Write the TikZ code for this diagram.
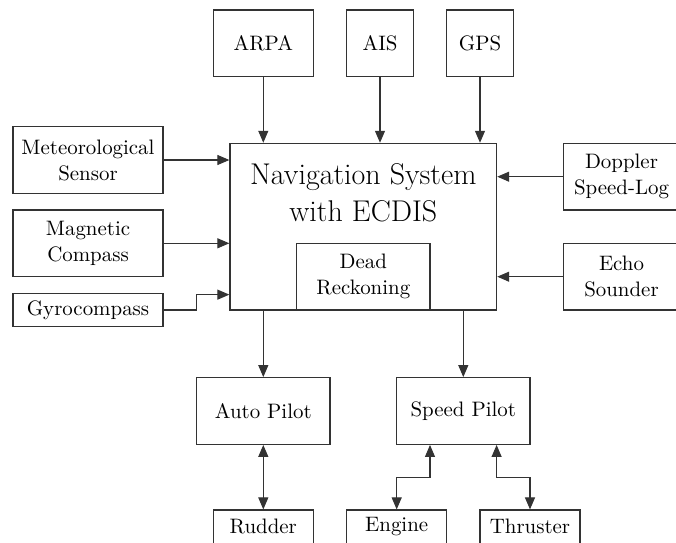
\documentclass[tikz,border=0pt]{standalone}
\usetikzlibrary{arrows.meta,calc}
\begin{document}
\begin{tikzpicture}[x=0.5pt,y=-0.5pt,
  txt/.style={align=center, inner sep=0pt, font=\fontsize{10.45}{13}\selectfont},
  box/.style={txt, draw=black!80, line width=0.6pt},
  big/.style={box, minimum width=75pt, minimum height=33.33pt},
  arr/.style={draw=black!80, line width=0.55pt, -{Triangle[length=6pt,width=5pt]}},
  darr/.style={draw=black!80, line width=0.55pt,
    {Triangle[length=6pt,width=5pt]}-{Triangle[length=6pt,width=5pt]}}]
\useasboundingbox (0,0) rectangle (676,542);

% sensors on top
\node[box, minimum width=50pt, minimum height=33.33pt] (arpa) at (263.3,43.3) {ARPA};
\node[box, minimum width=33.33pt, minimum height=33.33pt] (ais) at (380,43.3) {AIS};
\node[box, minimum width=33.33pt, minimum height=33.33pt] (gps) at (480,43.3) {GPS};

% central navigation system
\node[box, minimum width=133.33pt, minimum height=83.33pt] (main) at (363.3,226.7) {};
\node[align=center, inner sep=0pt, font=\fontsize{15}{18.5}\selectfont] (title) at (363.3,193)
  {Navigation System\\with ECDIS};
\node[box, minimum width=66.67pt, minimum height=33.33pt] (dr) at (363.3,276.7) {Dead\\Reckoning};

% sensors on the left
\node[big] (met) at (88,160) {Meteorological\\Sensor};
\node[big] (mag) at (88,243.3) {Magnetic\\Compass};
\node[box, minimum width=75pt, minimum height=16.67pt] (gyro) at (88,310) {Gyrocompass};

% sensors on the right (boxes run past the right margin)
\node[box, minimum width=62pt, minimum height=33.33pt] (doppler) at (625.3,176.7) {};
\node[txt] (dopplertext) at (621.5,176.7) {Doppler\\Speed-Log};
\node[box, minimum width=62pt, minimum height=33.33pt] (echo) at (625.3,276.7) {};
\node[txt] (echotext) at (621.5,276.7) {Echo\\Sounder};

% pilots
\node[box, minimum width=66.67pt, minimum height=33.33pt] (autopilot) at (263.3,411) {Auto Pilot};
\node[box, minimum width=66.67pt, minimum height=33.33pt] (speedpilot) at (463.3,411) {Speed Pilot};

% actuators
\node[box, minimum width=50pt, minimum height=16.67pt] (rudder) at (263.3,526.7) {Rudder};
\node[box, minimum width=50pt, minimum height=16.67pt] (engine) at (396.7,526.7) {Engine};
\node[box, minimum width=50pt, minimum height=16.67pt] (thruster) at (530,526.7) {Thruster};

% inputs
\draw[arr] (arpa.south) -- (arpa.south |- main.north);
\draw[arr] (ais.south) -- (ais.south |- main.north);
\draw[arr] (gps.south) -- (gps.south |- main.north);
\draw[arr] (met.east) -- (met.east -| main.west);
\draw[arr] (mag.east) -- (mag.east -| main.west);
\coordinate (gyin) at ($(main.south west)+(0,-16)$);
\draw[arr] (gyro.east) -- ++(33.3,0) |- (gyin);
\draw[arr] (doppler.west) -- (doppler.west -| main.east);
\draw[arr] (echo.west) -- (echo.west -| main.east);

% outputs
\draw[arr] (autopilot.north |- main.south) -- (autopilot.north);
\draw[arr] (speedpilot.north |- main.south) -- (speedpilot.north);
\draw[darr] (autopilot.south) -- (rudder.north);
\draw[darr] ($(speedpilot.south)+(-33.3,0)$) -- ++(0,33) -| (engine.north);
\draw[darr] ($(speedpilot.south)+(33.3,0)$) -- ++(0,33) -| (thruster.north);
\end{tikzpicture}
\end{document}
